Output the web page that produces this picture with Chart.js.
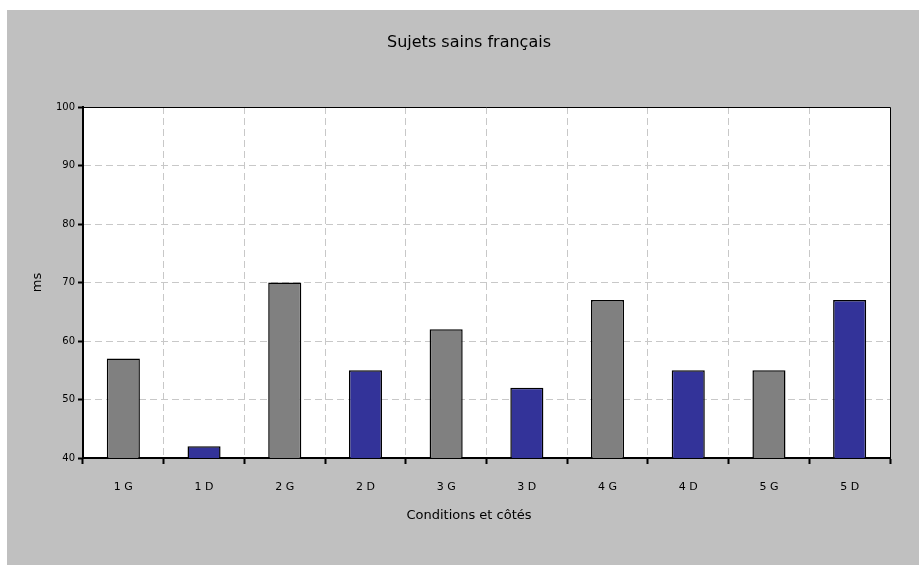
<!DOCTYPE html>
<html>
<head>
<meta charset="utf-8">
<script src="https://cdn.jsdelivr.net/npm/chart.js@4"></script>
<style>
  html, body { margin: 0; padding: 0; background: #ffffff; }
  #wrap { width: 919px; height: 565px; }
</style>
</head>
<body>
<div id="wrap"><canvas id="chart" width="919" height="565"></canvas></div>
<script>
var categories = ["1 G", "1 D", "2 G", "2 D", "3 G", "3 D", "4 G", "4 D", "5 G", "5 D"];
var values = [57, 42, 70, 55, 62, 52, 67, 55, 55, 67];
var yTicks = [40, 50, 60, 70, 80, 90, 100];

var barColors = categories.map(function(c) {
    return c.slice(-1) === "G" ? "#808080" : "#333399";
});

// grey panel behind the chart, plus the thin top / right frame of the plot
var panel = {
    id: "panel",
    beforeDraw: function(chart) {
        var ctx = chart.ctx;
        ctx.save();
        ctx.fillStyle = "#c0c0c0";
        ctx.fillRect(7, 10, 912, 555);
        var a = chart.chartArea;
        ctx.fillStyle = "#ffffff";
        ctx.fillRect(a.left, a.top, a.right - a.left, a.bottom - a.top);
        ctx.restore();
    },
    afterDraw: function(chart) {
        var ctx = chart.ctx;
        var a = chart.chartArea;
        ctx.save();
        ctx.strokeStyle = "#000000";
        ctx.lineWidth = 1;
        ctx.beginPath();
        ctx.moveTo(a.left, a.top + 0.5);
        ctx.lineTo(a.right + 0.5, a.top + 0.5);
        ctx.lineTo(a.right + 0.5, a.bottom);
        ctx.stroke();
        ctx.restore();
    }
};

var labelFont = "'Comic Sans MS', 'DejaVu Sans'";

var ctx = document.getElementById("chart");
var myChart = new Chart(ctx, {
    type: "bar",
    data: {
        labels: categories,
        datasets: [
            {
                label: "ms",
                data: values,
                backgroundColor: barColors,
                borderColor: "#000000",
                borderWidth: 1.5,
                borderSkipped: false,
                barPercentage: 0.41,
                categoryPercentage: 1
            }
        ]
    },
    plugins: [panel],
    options: {
        responsive: false,
        animation: false,
        devicePixelRatio: 1,
        layout: {
            padding: { left: 48, right: 29, top: 0, bottom: 0 }
        },
        plugins: {
            legend: { display: false },
            tooltip: { enabled: false },
            title: {
                display: true,
                text: "Sujets sains français",
                color: "#000000",
                font: { family: labelFont, size: 16, weight: "normal", lineHeight: 1.2 },
                padding: { top: 33, bottom: 54.8 }
            },
            // x axis title, centred on the whole panel like the original
            subtitle: {
                display: true,
                position: "bottom",
                text: "Conditions et côtés",
                color: "#000000",
                font: { family: labelFont, size: 13, weight: "normal", lineHeight: 1.2 },
                padding: { top: 0, bottom: 42 }
            }
        },
        scales: {
            x: {
                grid: {
                    color: "#c8c8c8",
                    lineWidth: 1,
                    offset: true,
                    drawTicks: true,
                    tickLength: 6,
                    tickColor: "#000000",
                    tickWidth: 2,
                    tickBorderDash: []
                },
                border: { display: true, color: "#000000", width: 2, dash: [7, 4] },
                ticks: {
                    color: "#000000",
                    padding: 17,
                    font: { family: labelFont, size: 11 }
                },
                afterFit: function(scale) { scale.height = 49.4; }
            },
            y: {
                min: 40,
                max: 100,
                afterBuildTicks: function(scale) {
                    scale.ticks = yTicks.map(function(v) { return { value: v }; });
                },
                grid: {
                    color: "#c8c8c8",
                    lineWidth: 1,
                    drawTicks: true,
                    tickLength: 5,
                    tickColor: "#000000",
                    tickWidth: 2,
                    tickBorderDash: []
                },
                border: { display: true, color: "#000000", width: 2, dash: [7, 4] },
                ticks: {
                    color: "#000000",
                    padding: 3,
                    font: { family: "'DejaVu Sans'", size: 10 }
                },
                title: {
                    display: true,
                    text: "ms",
                    color: "#000000",
                    font: { family: labelFont, size: 13, lineHeight: 1.2 },
                    padding: { top: -18, bottom: 0 }
                },
                afterFit: function(scale) { scale.width = 35; }
            }
        }
    }
});
</script>
</body>
</html>
